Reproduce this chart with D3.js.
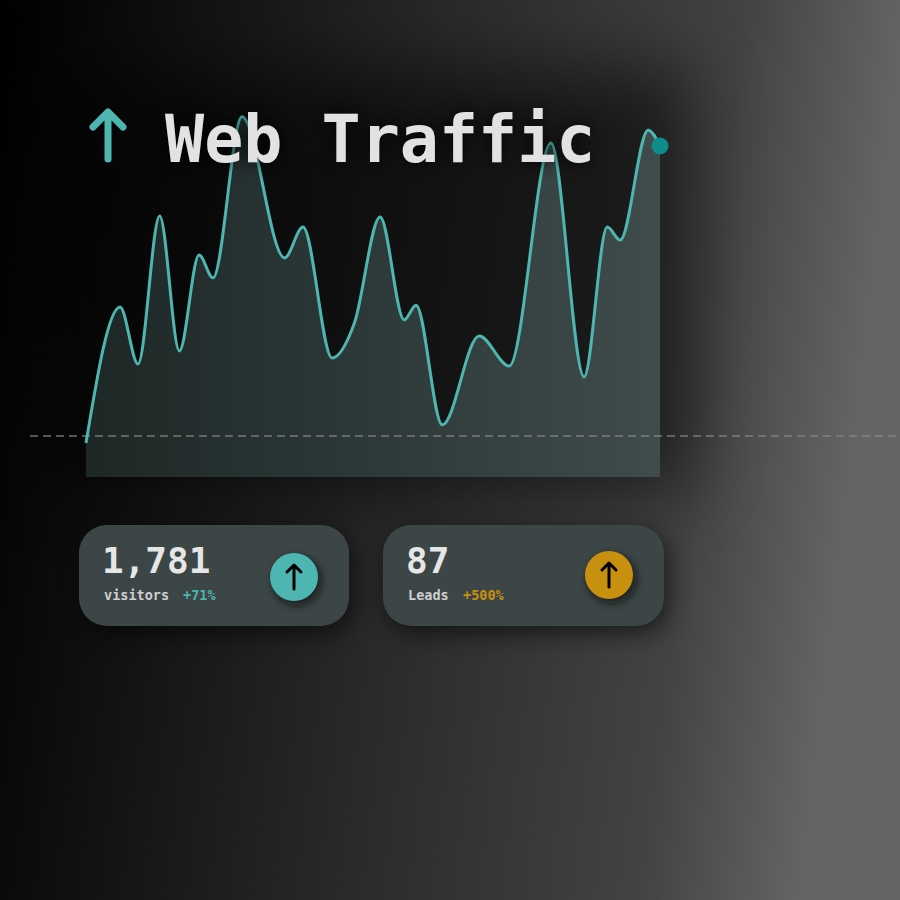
<!DOCTYPE html>
<html>
<head>
<meta charset="utf-8">
<script src="https://cdn.jsdelivr.net/npm/d3@7"></script>
<style>
  html, body { margin: 0; padding: 0; background: #000; }
  svg { display: block; }
</style>
</head>
<body>
<svg id="chart" width="900" height="900"></svg>
<script>
// ---- data ----
const days   = [0, 1.78, 2.72, 3.85, 4.88, 5.91, 6.64, 8.15, 10.38, 11.34, 12.86, 14.03, 15.37, 16.63, 17.25, 18.62, 20.55, 22.12, 24.3, 26.03, 27.24, 27.92, 29.38, 30];
const visits = [9.7, 48.6, 32.3, 74.6, 36.0, 63.4, 56.9, 102.9, 62.6, 71.4, 34.0, 44.0, 74.3, 44.9, 49.1, 14.9, 40.3, 31.7, 95.4, 28.6, 71.4, 67.7, 99.1, 94.6];
const baselineValue = 11.7;
const titleText = "Web Traffic";
const cardValues = ["1,781", "87"];
const cardLabels = ["visitors", "Leads"];
const cardChanges = ["+71%", "+500%"];

const teal = "#4db6b0";
const gold = "#c8900f";
const mono = "'DejaVu Sans Mono', 'Liberation Mono', monospace";

const svg = d3.select("#chart");
const defs = svg.append("defs");

// background gradient
const bg = defs.append("linearGradient").attr("id", "bg").attr("x1", "0").attr("x2", "1").attr("y1", "0").attr("y2", "0.12");
bg.append("stop").attr("offset", "0").attr("stop-color", "#000");
bg.append("stop").attr("offset", "0.5").attr("stop-color", "#2a2a2a");
bg.append("stop").attr("offset", "0.82").attr("stop-color", "#434343");
bg.append("stop").attr("offset", "1").attr("stop-color", "#656565");
svg.append("rect").attr("width", 900).attr("height", 900).attr("fill", "url(#bg)");

// big soft shadow
const blurBig = defs.append("filter").attr("id", "blurBig").attr("x", "-50%").attr("y", "-50%").attr("width", "200%").attr("height", "200%");
blurBig.append("feGaussianBlur").attr("stdDeviation", 35);
svg.append("rect").attr("x", 40).attr("y", 70).attr("width", 650).attr("height", 420)
  .attr("fill", "#000").attr("opacity", 0.55).attr("filter", "url(#blurBig)");

const x = d3.scaleLinear().domain([0, 30]).range([86, 660]);
const y = d3.scaleLinear().domain([0, 100]).range([477, 127]);
const data = days.map((d, i) => ({ d, v: visits[i] }));

// area fill gradient
const fg = defs.append("linearGradient").attr("id", "fillGrad").attr("x1", "0").attr("x2", "1").attr("y1", "0").attr("y2", "0");
fg.append("stop").attr("offset", "0").attr("stop-color", "#1c2726");
fg.append("stop").attr("offset", "1").attr("stop-color", "#3f4c4b");

const area = d3.area().x(p => x(p.d)).y0(y(0)).y1(p => y(p.v)).curve(d3.curveMonotoneX);
const line = d3.line().x(p => x(p.d)).y(p => y(p.v)).curve(d3.curveMonotoneX);

svg.append("path").datum(data).attr("d", area).attr("fill", "url(#fillGrad)");

// dashed baseline
svg.append("line").attr("x1", 30).attr("x2", 900).attr("y1", y(baselineValue)).attr("y2", y(baselineValue))
  .attr("stroke", "#8a8a8a").attr("stroke-width", 1.5).attr("stroke-dasharray", "8,5").attr("opacity", 0.8);

svg.append("path").datum(data).attr("d", line).attr("fill", "none")
  .attr("stroke", teal).attr("stroke-width", 3).attr("stroke-linejoin", "round");

// end dot
const last = data[data.length - 1];
svg.append("circle").attr("cx", x(last.d)).attr("cy", y(last.v)).attr("r", 8.5).attr("fill", "#0f8c8c");

// title with dark glow
const blurT = defs.append("filter").attr("id", "blurT").attr("x", "-20%").attr("y", "-50%").attr("width", "140%").attr("height", "200%");
blurT.append("feGaussianBlur").attr("stdDeviation", 9);
svg.append("text").attr("x", 165).attr("y", 162).attr("font-family", mono).attr("font-weight", "bold")
  .attr("font-size", 65).attr("fill", "#000").attr("opacity", 0.95).attr("filter", "url(#blurT)").text(titleText);
svg.append("text").attr("x", 165).attr("y", 162).attr("font-family", mono).attr("font-weight", "bold")
  .attr("font-size", 65).attr("fill", "#e2e2e2").text(titleText);

svg.append("path").attr("d", "M108,159 V112 M93,127 L108,112 L123,127")
  .attr("fill", "none").attr("stroke", teal).attr("stroke-width", 7)
  .attr("stroke-linecap", "round").attr("stroke-linejoin", "round");

// cards
const cardShadow = defs.append("filter").attr("id", "cardShadow").attr("x", "-30%").attr("y", "-50%").attr("width", "160%").attr("height", "200%");
cardShadow.append("feGaussianBlur").attr("stdDeviation", 12);
const circShadow = defs.append("filter").attr("id", "circShadow").attr("x", "-50%").attr("y", "-50%").attr("width", "200%").attr("height", "200%");
circShadow.append("feGaussianBlur").attr("stdDeviation", 4);

const cards = [
  { x: 79, w: 270, color: teal, cx: 294, cy: 577, changeX: 183 },
  { x: 383, w: 281, color: gold, cx: 609, cy: 575, changeX: 463 }
];
cards.forEach((c, i) => {
  const g = svg.append("g");
  g.append("rect").attr("x", c.x + 4).attr("y", 532).attr("width", c.w).attr("height", 101).attr("rx", 28)
    .attr("fill", "#000").attr("opacity", 0.6).attr("filter", "url(#cardShadow)");
  g.append("rect").attr("x", c.x).attr("y", 525).attr("width", c.w).attr("height", 101).attr("rx", 28)
    .attr("fill", "#3c4646");
  g.append("text").attr("x", c.x + 23).attr("y", 573).attr("font-family", mono).attr("font-weight", "bold")
    .attr("font-size", 36).attr("fill", "#e6e6e6").text(cardValues[i]);
  g.append("text").attr("x", c.x + 25).attr("y", 600).attr("font-family", mono).attr("font-weight", "bold")
    .attr("font-size", 13.5).attr("fill", "#cfcfcf").text(cardLabels[i]);
  g.append("text").attr("x", c.changeX).attr("y", 600).attr("font-family", mono).attr("font-weight", "bold")
    .attr("font-size", 13.5).attr("fill", c.color).text(cardChanges[i]);
  g.append("circle").attr("cx", c.cx + 3).attr("cy", c.cy + 4).attr("r", 24).attr("fill", "#111")
    .attr("opacity", 0.8).attr("filter", "url(#circShadow)");
  g.append("circle").attr("cx", c.cx).attr("cy", c.cy).attr("r", 24).attr("fill", c.color);
  g.append("path").attr("d", `M${c.cx},${c.cy + 12} V${c.cy - 12} M${c.cx - 7},${c.cy - 5} L${c.cx},${c.cy - 12} L${c.cx + 7},${c.cy - 5}`)
    .attr("fill", "none").attr("stroke", "#000").attr("stroke-width", 3)
    .attr("stroke-linecap", "round").attr("stroke-linejoin", "round");
});
</script>
</body>
</html>
